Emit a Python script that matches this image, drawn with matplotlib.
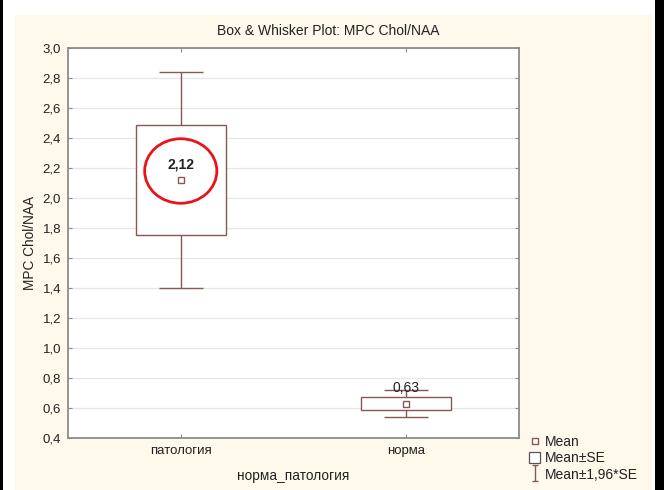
import matplotlib
matplotlib.use("Agg")
import matplotlib.pyplot as plt
from matplotlib.patches import Rectangle, Ellipse, Patch
from matplotlib.lines import Line2D
from matplotlib.path import Path
from matplotlib.ticker import FuncFormatter, MultipleLocator

plt.rcParams['font.family'] = ['Liberation Sans', 'DejaVu Sans']

categories = ["патология", "норма"]
means = [2.12, 0.63]
std_errors = [0.368, 0.045]
mean_labels = ["2,12", "0,63"]

BOX_COLOR = "#8a5656"
SPINE_COLOR = "#8c8c8c"
CREAM = "#fff9ec"

W, H = 664, 490
fig = plt.figure(figsize=(W / 100, H / 100), dpi=100)
fig.patch.set_facecolor("white")

def px_rect(x0, y0, x1, y1, color):
    fig.patches.append(Rectangle((x0 / W, 1 - y1 / H), (x1 - x0) / W, (y1 - y0) / H,
                                 transform=fig.transFigure, facecolor=color,
                                 edgecolor="none", zorder=-10))

# page background and dark margins
px_rect(15, 15, 652, H, CREAM)
px_rect(0, 0, 3, H, "black")
px_rect(655, 0, W, H, "black")

ax = fig.add_axes([68 / W, (H - 438) / H, 451 / W, 390 / H])
ax.set_facecolor("white")
ax.set_xlim(-0.5, 1.5)
ax.set_ylim(0.4, 3.0)

x = list(range(len(categories)))
for i, (m, se) in enumerate(zip(means, std_errors)):
    ax.errorbar(i, m, yerr=1.96 * se, fmt="none", ecolor=BOX_COLOR,
                elinewidth=1.0, capsize=15.8, capthick=1.0, zorder=2)
    ax.bar(i, 2 * se, bottom=m - se, width=0.4, color="white",
           edgecolor=BOX_COLOR, linewidth=1.0, zorder=3)
    ax.plot(i, m, marker="s", markersize=4.5, markerfacecolor="white",
            markeredgecolor=BOX_COLOR, markeredgewidth=1.0, zorder=4,
            linestyle="none")
    ax.annotate(mean_labels[i], (i, m), xytext=(0, 6), textcoords="offset points",
                ha="center", va="bottom", fontsize=10,
                fontweight="bold" if i == 0 else "normal", color="#222222",
                zorder=5)

# highlight around the first mean
ax.add_patch(Ellipse((0, 2.18), 0.32, 0.43, fill=False, edgecolor="#e8141a",
                     linewidth=2.0, zorder=6))

ax.set_xticks(x)
ax.set_xticklabels(categories)
ax.yaxis.set_major_locator(MultipleLocator(0.2))
ax.yaxis.set_major_formatter(FuncFormatter(lambda v, p: f"{v:.1f}".replace(".", ",")))
ax.grid(axis="y", color="#e6e6e6", linewidth=0.9, zorder=0)
ax.set_axisbelow(True)
ax.tick_params(direction="in", length=3, color=SPINE_COLOR, labelsize=9.5,
               labelcolor="#222222", top=True, right=True, pad=5)
for s in ax.spines.values():
    s.set_color(SPINE_COLOR)
    s.set_linewidth(1.3)

ax.set_ylabel("MPC Chol/NAA", fontsize=9.8, color="#222222", labelpad=4)
ax.set_xlabel("норма_патология", fontsize=9.8, color="#222222", labelpad=9)

fig.text(328 / W, 1 - 31 / H, "Box & Whisker Plot: MPC Chol/NAA", ha="center",
         va="center", fontsize=10, color="#222222")

ibeam = Path([(-0.45, 1), (0.45, 1), (0, 1), (0, -1), (-0.45, -1), (0.45, -1)],
             [Path.MOVETO, Path.LINETO, Path.MOVETO, Path.LINETO, Path.MOVETO, Path.LINETO])
handles = [
    Line2D([], [], marker="s", markersize=4, markerfacecolor="white",
           markeredgecolor=BOX_COLOR, linestyle="none"),
    Patch(facecolor="white", edgecolor="#555555", linewidth=0.9),
    Line2D([], [], marker=ibeam, markersize=11, markeredgecolor=BOX_COLOR,
           markeredgewidth=1.0, linestyle="none"),
]
leg = fig.legend(handles, ["Mean", "Mean±SE", "Mean±1,96*SE"], loc="upper left",
                 bbox_to_anchor=(521 / W, 1 - 427 / H), frameon=False, fontsize=10,
                 handlelength=0.8, handleheight=0.9, handletextpad=0.35,
                 labelspacing=0.15, borderpad=0.1)
for t in leg.get_texts():
    t.set_color("#222222")

fig.savefig("out.png", dpi=100, facecolor=fig.get_facecolor())
